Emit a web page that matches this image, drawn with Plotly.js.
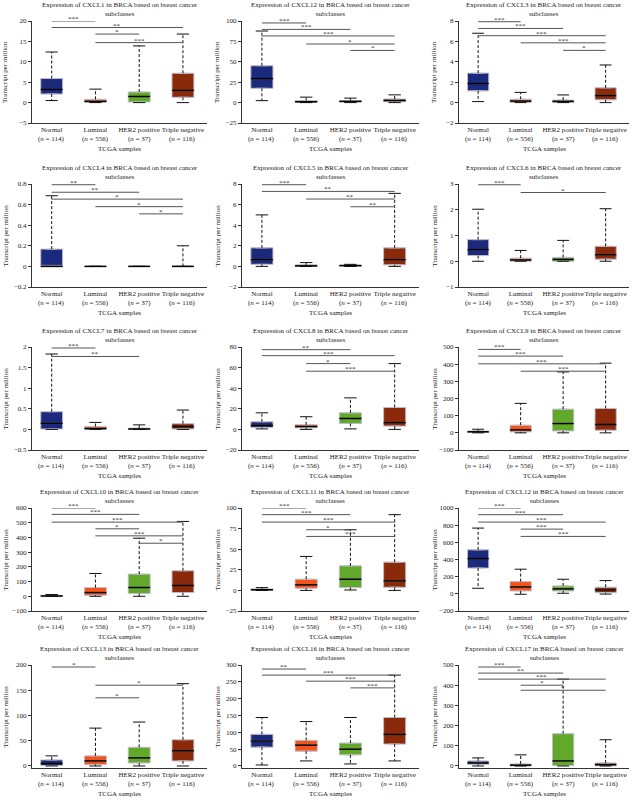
<!DOCTYPE html>
<html>
<head>
<meta charset="utf-8">
<script src="https://cdn.plot.ly/plotly-3.0.1.min.js"></script>
<style>html,body{margin:0;padding:0;background:#fff}#chart{width:632px;height:804px}</style>
</head>
<body>
<div id="chart"></div>
<script>
// ---- data ----
const genes = ["CXCL1","CXCL12","CXCL3","CXCL4","CXCL5","CXCL6","CXCL7","CXCL8","CXCL9","CXCL10","CXCL11","CXCL12","CXCL13","CXCL16","CXCL17"];
const groups = ["Normal","Luminal","HER2 positive","Triple negative"];
const groupN = [114, 556, 37, 116];
const groupColors = ["#1c2a7e","#f5531c","#62a82a","#8a2a0b"];

const yMin  = [-5,-25,-2,-0.2,-2,-1,-0.5,-20,-100,-100,-25,-200,-4,-6,-10];
const yMax  = [20,100,8,0.8,8,3,2,80,500,600,100,1000,200,300,500];
const yStep = [5,25,2,0.2,2,1,0.5,20,100,100,25,200,50,50,100];

const q1 = [
  [2.1,0.1,0.15,1.3],[17.5,0.5,0.8,1.2],[1.15,0.02,0.02,0.27],[0,0,0,0],[0.2,0,0.02,0.15],
  [0.22,0,0,0.08],[0.01,0,0,0.01],[1.9,1.5,5.8,3.2],[2,5.5,11,15],[0,7,18.6,25.4],
  [0.3,2.6,3.4,3.8],[300,33.7,33.7,14],[1,3,6,10],[56,44,33,65],[8,0,2,1]
];
const median = [
  [3.2,0.3,1.5,3.0],[29.4,1,1.5,2.5],[1.87,0.15,0.12,0.68],[0,0,0,0],[0.65,0.05,0.08,0.65],
  [0.45,0.05,0.07,0.25],[0.15,0.02,0.01,0.07],[3.9,2.8,10.6,6.5],[6,17,54,48.5],[2,25,59.6,73.3],
  [0.8,6.7,13.6,11.5],[410,80,57,45],[5,10,16,30],[74,62,50,94],[15,4,25,6]
];
const q3 = [
  [5.9,0.8,2.6,7.2],[45.2,2.5,2.5,4.4],[2.89,0.33,0.25,1.45],[0.168,0,0,0],[1.8,0.15,0.12,1.8],
  [0.84,0.12,0.15,0.58],[0.43,0.07,0.03,0.14],[7.4,4.5,16.1,21.3],[11,44.6,138,142],[7,59.6,150.8,173.6],
  [1.8,13.6,29.8,34.3],[513,142.8,92,76.6],[12,20,37,52],[94,76,68,144],[25,10,160,15]
];
const whiskerLow = [
  [0.5,0,0,0],[2.4,0,0,0],[0.1,0,0,0],[0,0,0,0],[0,0,0,0],
  [0,0,0,0],[0,0,0,0],[0.5,0,0.5,0],[0,0,0,0],[0,0,0,0],
  [0,0,0.5,0],[65,-5,6.5,-3],[0,0,0,0],[3,15,6,15],[0,0,0,0]
];
const whiskerHigh = [
  [12.4,3.3,13.9,16.8],[87.7,6.7,5.5,9.5],[6.8,1.0,0.75,3.69],[0.686,0,0,0.2],[5.0,0.37,0.2,7.09],
  [2.02,0.42,0.81,2.04],[1.83,0.17,0.11,0.47],[16.1,12.3,30.6,63.9],[21,171.6,355,406],[12,155,394.8,508.7],
  [3.4,41.2,73.6,91.9],[766,287,170,154.5],[20,75,87,163],[144,132,144,270],[40,55,430,130]
];
// significance brackets: [group a, group b, level, label]
const brackets = [
  [[0,1,20,"***"],[0,3,18.4,"**"],[1,2,16.8,"*"],[1,3,14.7,"***"]],
  [[0,1,97.6,"***"],[0,2,89.7,"***"],[0,3,81.7,"***"],[1,3,71.8,"*"],[2,3,63.9,"*"]],
  [[0,1,7.93,"***"],[0,2,7.27,"***"],[0,3,6.56,"***"],[1,3,5.86,"***"],[2,3,5.12,"*"]],
  [[0,1,0.793,"**"],[0,2,0.72,"**"],[0,3,0.653,"*"],[1,3,0.58,"*"],[2,3,0.51,"*"]],
  [[0,1,7.93,"***"],[0,3,7.28,"**"],[1,3,6.54,"**"],[2,3,5.79,"**"]],
  [[0,1,2.97,"***"],[1,3,2.67,"*"]],
  [[0,1,1.976,"***"],[0,2,1.77,"**"]],
  [[0,2,77.4,"**"],[0,3,71.6,"***"],[1,2,63.9,"*"],[1,3,56.5,"***"]],
  [[0,1,486,"***"],[0,2,447,"***"],[0,3,402,"***"],[1,3,359,"***"]],
  [[0,1,600,"***"],[0,2,556.6,"***"],[0,3,504,"***"],[1,2,458.6,"*"],[1,3,410.7,"***"],[2,3,360.6,"*"]],
  [[0,1,100,"***"],[0,2,91.9,"***"],[0,3,82.9,"***"],[1,2,73.6,"*"],[1,3,65.5,"***"]],
  [[0,1,1000,"***"],[0,2,922,"***"],[0,3,836,"***"],[1,2,754,"***"],[1,3,669,"***"]],
  [[0,1,196,"*"],[1,3,160,"*"],[1,2,135,"*"]],
  [[0,1,288,"**"],[0,3,270,"***"],[1,3,252,"***"],[2,3,232,"***"]],
  [[0,1,490,"***"],[0,2,460,"**"],[0,3,430,"***"],[1,2,400,"*"],[1,3,375,"*"]]
];

// ---- layout geometry (pixels) ----
const W = 632, H = 804;
const colLeft = [32, 242, 459], colRight = [207, 419, 629];
const rowTop = [21, 184, 347, 508, 665], rowBottom = [123, 287, 450, 611, 768];
const yTitleShift = [-27, -25, -25];
const BOXW = 0.5, CAPW = 0.28;
const FONT = "Liberation Serif, Times New Roman, serif";
const TXT = "#1a1a1a";

const traces = [];
const annotations = [];
const layout = {
  width: W, height: H,
  margin: {l: 0, r: 0, t: 0, b: 0},
  paper_bgcolor: "#fff", plot_bgcolor: "#fff",
  showlegend: false,
  font: {family: FONT, size: 7, color: TXT},
  annotations: annotations
};

genes.forEach((gene, p) => {
  const row = Math.floor(p / 3), col = p % 3;
  const n = p + 1;
  const xa = "x" + (n === 1 ? "" : n), ya = "y" + (n === 1 ? "" : n);
  const xKey = "xaxis" + (n === 1 ? "" : n), yKey = "yaxis" + (n === 1 ? "" : n);
  layout[xKey] = {
    domain: [colLeft[col] / W, colRight[col] / W],
    anchor: ya, range: [-0.45, 3.55],
    tickmode: "array", tickvals: [0, 1, 2, 3], ticktext: groups, tickangle: 0,
    showline: true, linecolor: "#333", linewidth: 1, ticks: "",
    showgrid: false, zeroline: false, tickfont: {size: 7, family: FONT, color: TXT}
  };
  layout[yKey] = {
    domain: [1 - rowBottom[row] / H, 1 - rowTop[row] / H],
    anchor: xa, range: [yMin[p], yMax[p]], tick0: 0, dtick: yStep[p],
    showline: true, linecolor: "#333", linewidth: 1,
    ticks: "outside", ticklen: 3, tickwidth: 1, tickcolor: "#333",
    showgrid: false, zeroline: false, tickfont: {size: 7, family: FONT, color: TXT}
  };

  for (let g = 0; g < 4; g++) {
    traces.push({
      type: "box", x: [g], xaxis: xa, yaxis: ya,
      q1: [q1[p][g]], median: [median[p][g]], q3: [q3[p][g]],
      lowerfence: [q1[p][g]], upperfence: [q3[p][g]],
      width: BOXW, fillcolor: groupColors[g],
      line: {color: "rgba(190,190,200,1)", width: 1},
      hoverinfo: "skip"
    });
    traces.push({
      type: "scatter", mode: "lines", xaxis: xa, yaxis: ya,
      x: [g, g, null, g, g],
      y: [q3[p][g], whiskerHigh[p][g], null, q1[p][g], whiskerLow[p][g]],
      line: {color: "#111", width: 1, dash: "3px,2px"}, hoverinfo: "skip"
    });
    traces.push({
      type: "scatter", mode: "lines", xaxis: xa, yaxis: ya,
      x: [g - CAPW / 2, g + CAPW / 2, null, g - CAPW / 2, g + CAPW / 2],
      y: [whiskerHigh[p][g], whiskerHigh[p][g], null, whiskerLow[p][g], whiskerLow[p][g]],
      line: {color: "#111", width: 1}, hoverinfo: "skip"
    });
    traces.push({
      type: "scatter", mode: "lines", xaxis: xa, yaxis: ya,
      x: [g - BOXW / 2, g + BOXW / 2], y: [median[p][g], median[p][g]],
      line: {color: "#000", width: 1.5}, hoverinfo: "skip"
    });
    annotations.push({
      xref: xa, yref: ya + " domain", x: g, y: 0,
      xanchor: "center", yanchor: "middle", yshift: -16,
      text: "(<i>n</i> = " + groupN[g] + ")", showarrow: false,
      font: {size: 7, family: FONT, color: TXT}
    });
  }

  brackets[p].forEach(b => {
    traces.push({
      type: "scatter", mode: "lines", xaxis: xa, yaxis: ya,
      x: [b[0], b[1]], y: [b[2], b[2]],
      line: {color: "#555", width: 1}, hoverinfo: "skip", cliponaxis: false
    });
    annotations.push({
      xref: xa, yref: ya, x: (b[0] + b[1]) / 2, y: b[2],
      text: b[3], showarrow: false, yanchor: "bottom", yshift: -4,
      font: {size: 7, family: FONT, color: "#333"}
    });
  });

  annotations.push({
    xref: xa + " domain", yref: ya + " domain", x: 0.5, y: 1,
    xanchor: "center", yanchor: "bottom", yshift: 1,
    text: "Expression of " + gene + " in BRCA based on breast cancer<br>subclasses",
    showarrow: false, font: {size: 7, family: FONT, color: TXT}
  });
  annotations.push({
    xref: xa + " domain", yref: ya + " domain", x: 0.5, y: 0,
    xanchor: "center", yanchor: "middle", yshift: -26,
    text: "TCGA samples", showarrow: false, font: {size: 7, family: FONT, color: TXT}
  });
  annotations.push({
    xref: xa + " domain", yref: ya + " domain", x: 0, y: 0.5,
    xanchor: "center", yanchor: "middle", xshift: yTitleShift[col], textangle: -90,
    text: "Transcript per million", showarrow: false, font: {size: 7, family: FONT, color: TXT}
  });
});

Plotly.newPlot("chart", traces, layout, {staticPlot: true, displayModeBar: false});
</script>
</body>
</html>
